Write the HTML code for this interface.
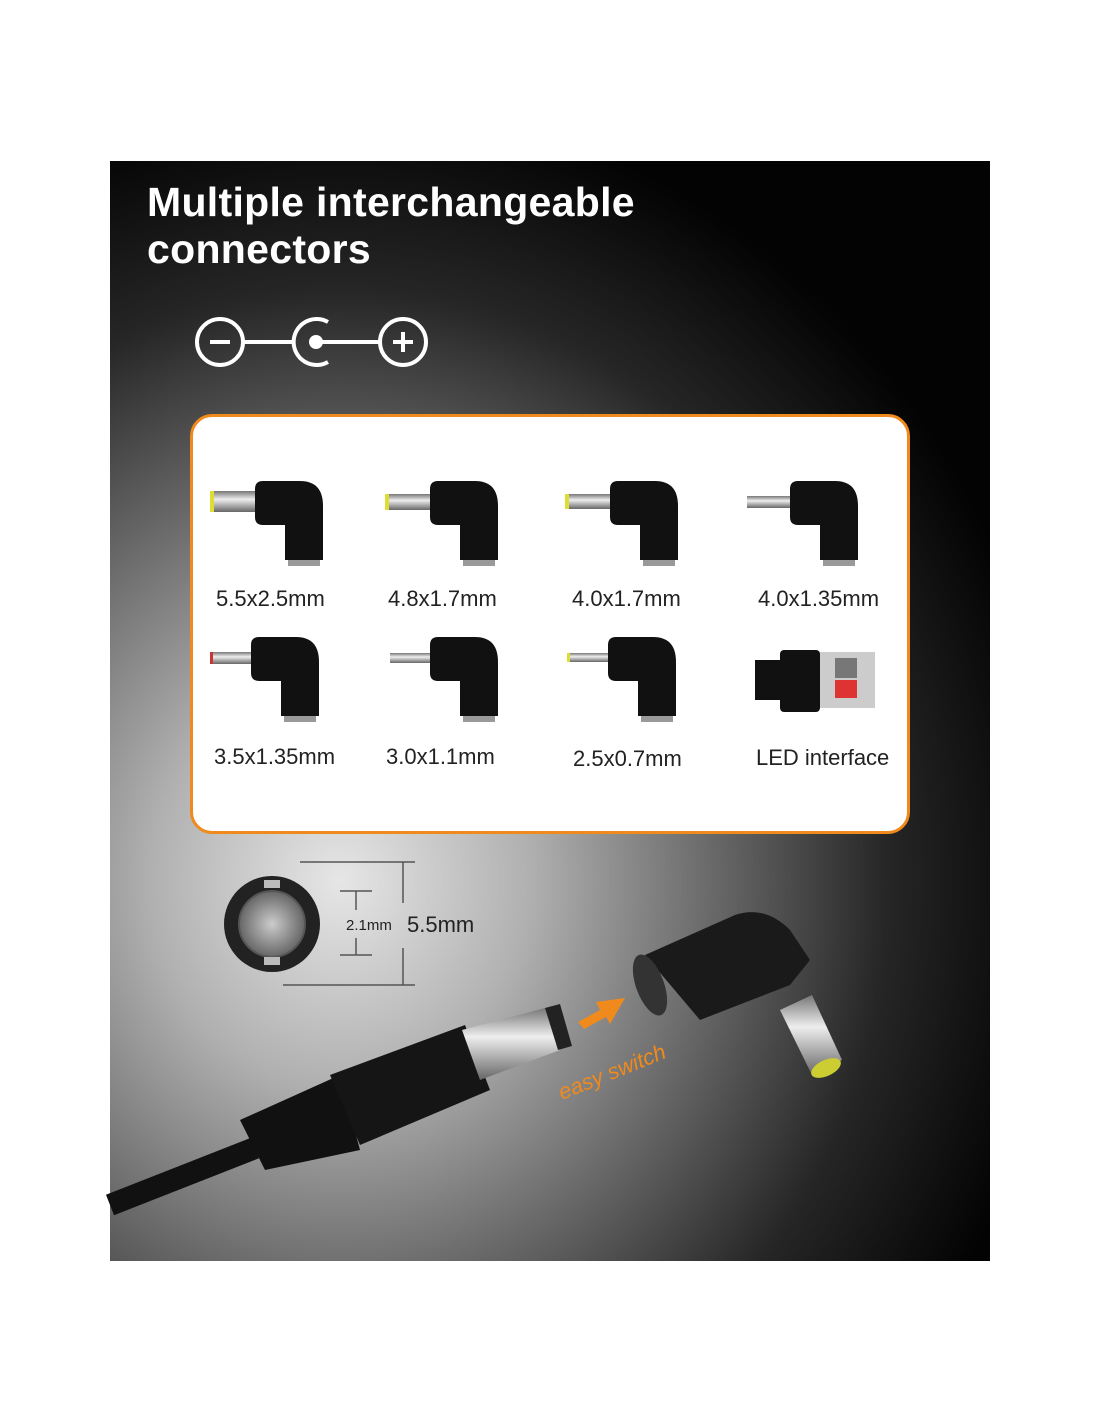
<!DOCTYPE html>
<html><head><style>
body{margin:0;background:#fff;width:1100px;height:1422px;position:relative;overflow:hidden;font-family:"Liberation Sans",sans-serif}
.panel{position:absolute;left:110px;top:161px;width:880px;height:1100px;overflow:hidden;
background:radial-gradient(ellipse 760px 820px at 230px 720px,#e6e6e6 0%,#b0b0b0 25%,#666 50%,#262626 72%,#030303 95%)}
h1{position:absolute;left:37px;top:18px;margin:0;color:#fff;font-size:41px;line-height:47px;font-weight:bold;letter-spacing:0.3px}
.box{position:absolute;left:80px;top:253px;width:714px;height:414px;border:3px solid #f08a1c;border-radius:22px;background:#fff}
.lb{position:absolute;font-size:22px;color:#222;white-space:nowrap}
</style></head><body>
<div class="panel">
<h1>Multiple interchangeable<br>connectors</h1>
<div class="box"></div>
</div>
<svg width="1100" height="1422" style="position:absolute;left:0;top:0">
<defs>
<linearGradient id="pin" x1="0" y1="0" x2="0" y2="1"><stop offset="0" stop-color="#777"/><stop offset=".4" stop-color="#eee"/><stop offset="1" stop-color="#666"/></linearGradient>
<radialGradient id="hole"><stop offset="0" stop-color="#ccc"/><stop offset="1" stop-color="#666"/></radialGradient>
<g id="body"><path d="M0,8 Q0,0 8,0 L45,0 Q68,0 68,25 L68,79 L30,79 L30,44 L8,44 Q0,44 0,36 Z" fill="#111"/><rect x="33" y="79" width="32" height="6" fill="#999"/></g>
</defs>
<g stroke="#fff" stroke-width="4" fill="none">
<circle cx="220" cy="342" r="23"/><line x1="210" y1="342" x2="230" y2="342"/>
<line x1="243" y1="342" x2="292" y2="342"/>
<path d="M328,322 A23,23 0 1 0 328,362"/>
<line x1="318" y1="342" x2="380" y2="342"/>
<circle cx="403" cy="342" r="23"/><line x1="393" y1="342" x2="413" y2="342"/><line x1="403" y1="332" x2="403" y2="352"/>
</g>
<circle cx="316" cy="342" r="7" fill="#fff"/>
<g transform="translate(255,481)"><rect x="-43" y="10" width="43" height="21" fill="url(#pin)"/><rect x="-45" y="10" width="4" height="21" fill="#dd3"/><use href="#body"/></g>
<g transform="translate(430,481)"><rect x="-43" y="13" width="43" height="16" fill="url(#pin)"/><rect x="-45" y="13" width="4" height="16" fill="#dd3"/><use href="#body"/></g>
<g transform="translate(610,481)"><rect x="-43" y="13" width="43" height="15" fill="url(#pin)"/><rect x="-45" y="13" width="4" height="15" fill="#dd3"/><use href="#body"/></g>
<g transform="translate(790,481)"><rect x="-43" y="15" width="43" height="12" fill="url(#pin)"/><use href="#body"/></g>
<g transform="translate(251,637)"><rect x="-40" y="15" width="40" height="12" fill="url(#pin)"/><rect x="-41" y="15" width="3" height="12" fill="#c33"/><use href="#body"/></g>
<g transform="translate(430,637)"><rect x="-40" y="16" width="40" height="10" fill="url(#pin)"/><use href="#body"/></g>
<g transform="translate(608,637)"><rect x="-40" y="16" width="40" height="9" fill="url(#pin)"/><rect x="-41" y="16" width="3" height="9" fill="#dd3"/><use href="#body"/></g>
<rect x="755" y="660" width="30" height="40" fill="#111"/><rect x="780" y="650" width="40" height="62" rx="4" fill="#111"/>
<rect x="820" y="652" width="55" height="56" fill="#ccc"/><rect x="835" y="658" width="22" height="20" fill="#777"/><rect x="835" y="680" width="22" height="18" fill="#d33"/>
<circle cx="272" cy="924" r="48" fill="#222"/><circle cx="272" cy="924" r="33" fill="url(#hole)" stroke="#555" stroke-width="2"/>
<rect x="264" y="880" width="16" height="8" fill="#bbb"/><rect x="264" y="957" width="16" height="8" fill="#bbb"/>
<g stroke="#555" stroke-width="1.5">
<line x1="300" y1="862" x2="415" y2="862"/><line x1="283" y1="985" x2="415" y2="985"/><line x1="403" y1="862" x2="403" y2="903"/><line x1="403" y1="948" x2="403" y2="985"/>
<line x1="340" y1="891" x2="372" y2="891"/><line x1="340" y1="955" x2="372" y2="955"/><line x1="356" y1="891" x2="356" y2="910"/><line x1="356" y1="938" x2="356" y2="955"/>
</g>
<text x="346" y="930" font-size="15" fill="#222" font-family="Liberation Sans">2.1mm</text>
<text x="407" y="932" font-size="22" fill="#222" font-family="Liberation Sans">5.5mm</text>
<path d="M110,1205 L255,1148" stroke="#111" stroke-width="22" fill="none"/>
<path d="M240,1120 L340,1075 L360,1150 L265,1170 Z" fill="#111"/>
<path d="M330,1075 L465,1025 L490,1090 L360,1145 Z" fill="#151515"/>
<path d="M462,1030 L545,1008 L560,1050 L480,1080 Z" fill="url(#pin)"/>
<path d="M545,1008 L560,1004 L572,1046 L558,1050 Z" fill="#222"/>
<path d="M578,1022 L600,1010 L596,1002 L625,998 L610,1024 L606,1017 L584,1029 Z" fill="#f08a1c"/>
<text x="0" y="0" font-size="22" fill="#f08a1c" font-style="italic" font-family="Liberation Sans" transform="translate(562,1100) rotate(-22)">easy switch</text>
<path d="M645,955 L735,915 Q765,905 790,930 L810,960 L790,985 L700,1020 Z" fill="#1a1a1a"/>
<ellipse cx="650" cy="985" rx="14" ry="32" fill="#333" transform="rotate(-20 650 985)"/>
<path d="M780,1010 L812,995 L842,1060 L812,1075 Z" fill="url(#pin)"/>
<ellipse cx="826" cy="1068" rx="16" ry="8" fill="#cc3" transform="rotate(-25 826 1068)"/>
</svg>
<div class="lb" style="left:216px;top:586px">5.5x2.5mm</div>
<div class="lb" style="left:388px;top:586px">4.8x1.7mm</div>
<div class="lb" style="left:572px;top:586px">4.0x1.7mm</div>
<div class="lb" style="left:758px;top:586px">4.0x1.35mm</div>
<div class="lb" style="left:214px;top:744px">3.5x1.35mm</div>
<div class="lb" style="left:386px;top:744px">3.0x1.1mm</div>
<div class="lb" style="left:573px;top:746px">2.5x0.7mm</div>
<div class="lb" style="left:756px;top:745px">LED interface</div>
</body></html>
